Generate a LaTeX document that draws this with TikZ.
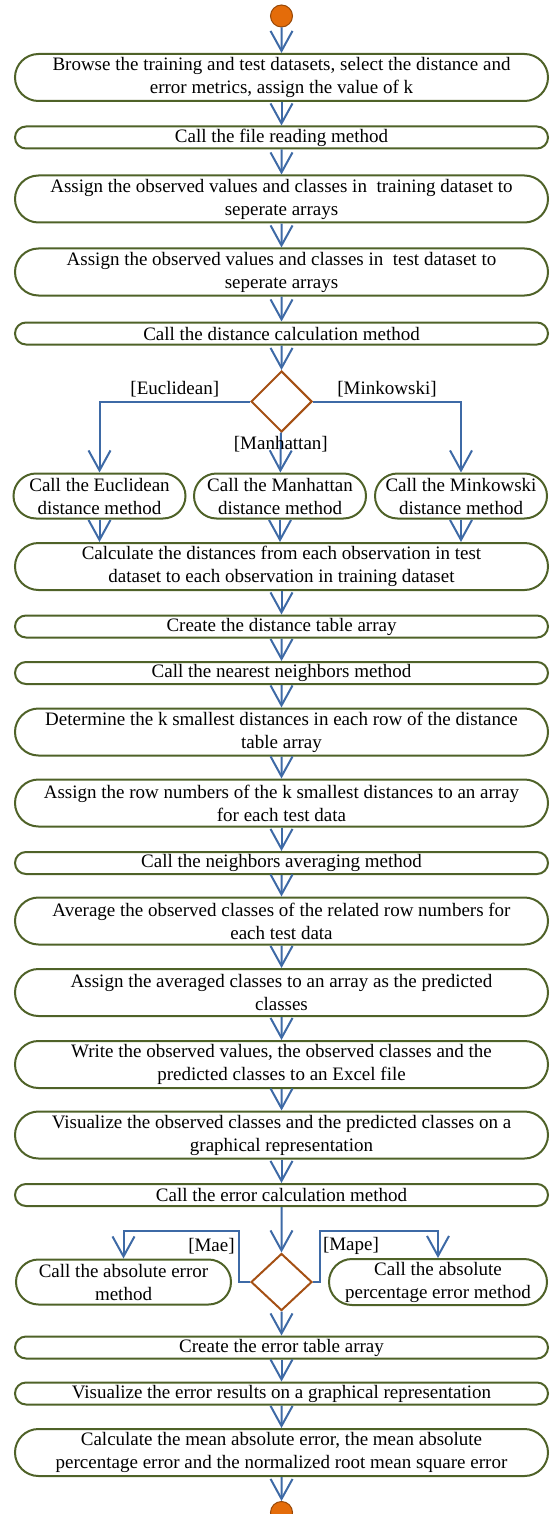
\documentclass[tikz,border=0pt]{standalone}
\usepackage{fontspec}
\setmainfont{Liberation Serif}
\usetikzlibrary{arrows.meta,shapes.misc,shapes.geometric,positioning}

\definecolor{boxgreen}{RGB}{79,98,40}
\definecolor{flowblue}{RGB}{62,106,166}
\definecolor{choicebrown}{RGB}{165,80,20}
\definecolor{dotorange}{RGB}{228,108,10}
\definecolor{dotedge}{RGB}{152,72,7}

\begin{document}
\begin{tikzpicture}[->,>={Straight Barb[length=20pt,width=22pt]},x=1pt,y=1pt,line width=2pt,node distance=60pt,font=\fontsize{19}{23}\selectfont,every edge/.style={draw=flowblue},stepbox/.style={rounded rectangle,draw=boxgreen,minimum width=533pt,minimum height=22pt,inner sep=0pt,align=center},tallbox/.style={stepbox,minimum height=47pt},subbox/.style={stepbox,minimum width=172pt,minimum height=45pt},choice/.style={diamond,draw=choicebrown,minimum width=61pt,minimum height=61pt,inner sep=0pt},dot/.style={circle,fill=dotorange,draw=dotedge,line width=1pt,minimum size=22pt,inner sep=0pt}]
            \useasboundingbox (0,0) rectangle (552,-1514);

            \node[dot] (s) at (281.5,-16) {};
            \node[tallbox] (b1) [below of = s, yshift = -1.5]{Browse the training and test datasets, select the distance and\\ error metrics, assign the value of k};
            \node[stepbox] (b2) [below of = b1]{Call the file reading method};
            \node[tallbox] (b3) [below of = b2, yshift = -1.5]{Assign the observed values and classes in~ training dataset to\\ seperate arrays};
            \node[tallbox] (b4) [below of = b3, yshift = -13]{Assign the observed values and classes in~ test dataset to\\ seperate arrays};
            \node[stepbox] (b5) [below of = b4, yshift = -1.5]{Call the distance calculation method};

            \node[choice] (d1) [below of = b5, yshift = -8]{};
            \node[subbox] (m1) [below of = d1, yshift = -34.5, xshift = -1.5]{Call the Manhattan\\ distance method};
            \node[subbox] (e1) [left of = m1, xshift = -120.5]{Call the Euclidean\\ distance method};
            \node[subbox] (k1) [right of = m1, xshift = 121]{Call the Minkowski\\ distance method};

            \node[tallbox] (b6) [below of = d1, yshift = -105]{Calculate the distances from each observation in test\\ dataset to each observation in training dataset};
            \node[stepbox] (b7) [below of = b6]{Create the distance table array};
            \node[stepbox] (b8) [below of = b7, yshift = 13.5]{Call the nearest neighbors method};
            \node[tallbox] (b9) [below of = b8, yshift = 1]{Determine the k smallest distances in each row of the distance\\ table array};
            \node[tallbox] (b10) [below of = b9, yshift = -11]{Assign the row numbers of the k smallest distances to an array\\ for each test data};
            \node[stepbox] (b11) [below of = b10]{Call the neighbors averaging method};
            \node[tallbox] (b12) [below of = b11, yshift = 2]{Average the observed classes of the related row numbers for\\ each test data};
            \node[tallbox] (b13) [below of = b12, yshift = -11.5]{Assign the averaged classes to an array as the predicted\\ classes};
            \node[tallbox] (b14) [below of = b13, yshift = -12]{Write the observed values, the observed classes and the\\ predicted classes to an Excel file};
            \node[tallbox] (b15) [below of = b14, yshift = -10.5]{Visualize the observed classes and the predicted classes on a\\ graphical representation};
            \node[stepbox] (b16) [below of = b15]{Call the error calculation method};

            \node[choice] (d2) [below of = b16, yshift = -27, minimum height = 57pt]{};
            \node[subbox] (a1) [left of = d2, xshift = -98, minimum width = 215pt]{Call the absolute error\\ method};
            \node[subbox] (p1) [right of = d2, xshift = 96.5, minimum width = 218pt, minimum height = 46pt]{Call the absolute\\ percentage error method};

            \node[stepbox] (b17) [below of = d2, yshift = -5.5]{Create the error table array};
            \node[stepbox] (b18) [below of = b17, yshift = 14]{Visualize the error results on a graphical representation};
            \node[tallbox] (b19) [below of = b18, yshift = 1]{Calculate the mean absolute error, the mean absolute\\ percentage error and the normalized root mean square error};
            \node[dot] (e) [below of = b19]{};

            \path
                (s) edge (b1)
                (b1) edge (b2)
                (b2) edge (b3)
                (b3) edge (b4)
                (b4) edge (b5)
                (b5) edge (d1)
                (d1) edge node[pos=0.3] {[Manhattan]} (m1)
                (e1) edge (e1 |- b6.north)
                (m1) edge (m1 |- b6.north)
                (k1) edge (k1 |- b6.north)
                (b6) edge (b7)
                (b7) edge (b8)
                (b8) edge (b9)
                (b9) edge (b10)
                (b10) edge (b11)
                (b11) edge (b12)
                (b12) edge (b13)
                (b13) edge (b14)
                (b14) edge (b15)
                (b15) edge (b16)
                (b16) edge (d2)
                (d2) edge (b17)
                (b17) edge (b18)
                (b18) edge (b19)
                (b19) edge (e)
                ;

            \draw[draw=flowblue] (d1) -| node[above, pos=0.25] {[Euclidean]} (e1);
            \draw[draw=flowblue] (d1) -| node[above, pos=0.25] {[Minkowski]} (k1);
            \draw[draw=flowblue] (d2.west) -- ++(-11,0) -- ++(0,51) node[left, pos=0.7] {[Mae]} -| (a1);
            \draw[draw=flowblue] (d2.east) -- ++(7,0) -- ++(0,51) node[right, pos=0.7, inner sep=2pt] {[Mape]} -| (p1);
        \end{tikzpicture}
\end{document}
